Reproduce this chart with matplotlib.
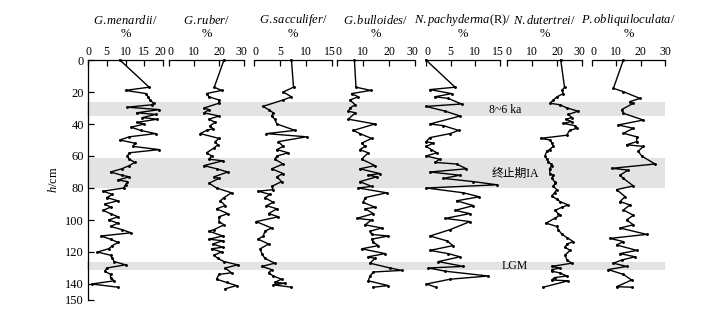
import matplotlib
matplotlib.use("Agg")
import matplotlib.pyplot as plt
from matplotlib.transforms import ScaledTranslation

plt.rcParams['font.family'] = ['Liberation Serif', 'Noto Sans CJK SC', 'DejaVu Sans']
plt.rcParams['mathtext.fontset'] = 'custom'
plt.rcParams['mathtext.it'] = 'Liberation Serif:italic'
plt.rcParams['mathtext.rm'] = 'Liberation Serif'

# ---------------- data ----------------
menardii_depth = [0, 17, 19, 21, 23, 25, 27, 28, 29.5, 31, 33, 34, 36, 37, 39, 40, 42, 44, 46, 48, 50, 52, 54, 56, 58, 60,
                  62, 64, 66, 68, 70, 72, 73, 75, 76, 78, 80, 82, 84, 86, 88, 90, 92, 94, 96, 98, 100, 102, 104, 106, 108,
                  110, 112, 114, 116, 118, 120, 122, 124, 126, 128, 130, 132, 134, 136, 138, 140, 142]
menardii_val = [8.5, 16.3, 10, 15.5, 16, 16.5, 17.5, 17, 10.5, 19, 13, 18, 14.5, 18.5, 13, 15, 11.5, 14, 18, 11, 8.5, 12.5,
                12, 19, 11, 10.5, 11, 12.5, 11, 9, 6, 9, 11, 8, 10.5, 10, 9.5, 4, 6.5, 5, 8, 4.5, 6, 4, 6, 8, 5.5, 8, 6, 9,
                11.5, 3.5, 6, 8, 6.5, 5.5, 2.5, 6, 6.5, 7, 10, 5, 4.5, 6, 6, 7, 1, 8]

ruber_depth = [0, 17, 19, 21, 23, 25, 27, 30, 31, 33, 35, 37, 39, 41, 43, 44, 46, 49, 51, 53, 55, 58, 60, 62, 63, 66, 68,
               70, 73, 74, 77, 80, 83, 86, 88, 91, 93, 96, 98, 101, 103, 106, 107, 110, 112, 113, 115, 117, 118, 120, 122,
               124, 126, 128, 130, 133, 134, 137, 139, 141, 143]
ruber_val = [22, 18.1, 21, 15, 16, 20, 20, 14, 16, 14, 20, 16, 18.5, 16.5, 17.5, 15, 12.5, 20, 18.5, 19.5, 18, 15, 17, 16,
             21.5, 14, 19, 23.5, 18, 20, 16, 19, 25, 22, 20.5, 22.5, 19, 23.5, 20, 20, 22, 18, 16, 21.5, 16, 21.5, 17.5,
             21.5, 17, 21, 18, 19.5, 22, 27.5, 22.5, 25, 20, 19, 23, 27, 22.5]

sacculifer_depth = [0, 17, 20, 23, 25, 29, 31, 33, 35, 37, 40, 44, 46, 48, 51, 54, 56, 58, 60, 62, 65, 68, 71, 73, 76, 79,
                    81, 82, 84, 86, 89, 91, 93, 96, 98, 101, 105, 107, 110, 112, 115, 118, 121, 124, 127, 129, 131, 133,
                    135, 137, 139, 139.5, 140.5, 142]
sacculifer_val = [7.2, 7.6, 5.6, 7.2, 5.6, 1.7, 2.8, 3.7, 3.4, 4, 4.4, 7.9, 2.4, 10.1, 4.7, 5.6, 4.4, 6.6, 4.4, 4, 5.6,
                  3.4, 5.6, 4.4, 5.3, 3.4, 3.7, 0.8, 3.1, 2.1, 3.7, 2.4, 4.4, 2.8, 4.7, 0.4, 3.4, 2.1, 1.8, 0.8, 2.8, 1.2,
                  1.5, 2.1, 4, 1.5, 3.4, 2.8, 3.7, 5.3, 4, 6, 3.7, 7.2]

bulloides_depth = [0, 17, 19, 21, 23, 25, 28, 30, 32, 33, 37, 40, 44, 46, 49, 52, 54, 56, 58, 62, 66, 68, 71, 72, 73, 76,
                   79, 80, 83, 86, 89, 92, 93, 96, 99, 100, 103, 105, 107, 109, 110, 112, 114, 116, 118, 121, 123, 124,
                   127, 130, 131.5, 132.5, 135, 138, 141, 142]
bulloides_val = [6.7, 7.3, 13, 5.6, 8.2, 5, 7, 5, 4.4, 7, 4.4, 14.6, 6.3, 8.8, 13.3, 9.5, 10.8, 8.8, 12, 9.5, 14.6, 8.8,
                 16.5, 12, 15.3, 8.8, 13.3, 8.2, 19.1, 10.8, 10.1, 14.6, 10.8, 14, 7.6, 13.3, 10.8, 17.2, 12.7, 13.3, 19.7,
                 13.3, 14, 15.9, 9.5, 18.5, 12, 14.6, 12.7, 20.4, 24.9, 14, 12.7, 12, 19.7, 14]

pachyderma_depth = [0, 17, 18.5, 21, 23, 24, 27.5, 29, 32, 35, 40, 41, 44, 46, 48.5, 51, 52, 54, 56, 58, 60, 62, 64, 65,
                    68, 70, 72, 74, 76, 78, 80, 83, 85.5, 88, 91, 94, 96, 99, 101, 106, 110, 113, 116, 119, 121, 123, 126,
                    129, 130, 132, 135, 137, 140, 142]
pachyderma_val = [0, 5.9, 0.8, 5.2, 1.8, 4.5, 7.2, 0, 3.9, 6.9, 0.8, 3.5, 6.6, 4.9, 0.8, 0, 1.5, 0, 1.1, 2.2, 0, 2.8, 1.8,
                  6.2, 8.2, 0.8, 6.9, 3.5, 9.6, 14.4, 0.1, 7.6, 10.8, 6.2, 9.6, 5.9, 8.9, 3.9, 8.9, 4.9, 0.8, 4.2, 5.5,
                  0.8, 4.5, 6.9, 2.5, 7.6, 0.5, 3.9, 12.6, 4.9, 0.1, 2]

dutertrei_depth = [0, 17, 19, 21, 23, 25, 27, 28, 30, 32, 34, 36, 37, 38.5, 39.6, 41, 42.7, 44, 47, 49, 50, 52, 54, 56,
                   57, 60, 62, 63.5, 65, 66, 68, 71, 72, 74, 76, 77, 79, 81, 83, 85, 87, 88.5, 90.6, 92, 94, 96, 97, 99,
                   102, 104, 106, 109, 111, 113.5, 115, 117, 119, 122, 125, 127, 129, 130, 131, 132, 133, 135, 136,
                   137.5, 138, 142]
dutertrei_val = [21.5, 23, 22, 22.5, 20, 18.5, 17.2, 21.2, 24, 28.5, 24.5, 26, 23.5, 25.9, 22.5, 27, 27.9, 25, 23.9, 13.5,
                 17.2, 18, 18.5, 17, 15.9, 15.2, 16, 16.5, 17.5, 17.9, 17, 17.2, 18.5, 17.9, 19, 19.2, 18.5, 19.9, 19,
                 17.9, 20, 21.2, 24.5, 22, 19.2, 20.5, 21.2, 19, 15.6, 19.9, 20.5, 22, 24, 26.5, 24, 23.2, 25.2, 23.2,
                 24, 25.9, 17.9, 21.2, 18, 17.9, 21, 23.9, 19, 17.9, 24.5, 14.5]

obliqui_depth = [0, 17.7, 19.8, 24, 26, 27, 31, 33.3, 37.5, 40.6, 42.7, 45.8, 48, 51, 53, 54, 57, 60, 65, 67.7, 68.8, 72,
                 74, 78.7, 81, 85.4, 88.5, 90.6, 93.75, 97, 100, 103, 105, 109, 111.5, 113.5, 115.6, 119, 121, 123, 125,
                 127, 129, 131, 134, 137.5, 141.7, 142]
obliqui_val = [12.9, 8.8, 12.9, 19.7, 15.6, 17, 12.2, 12.9, 21.1, 10.8, 17, 12.9, 18.4, 18.4, 14.2, 21.1, 19, 20.4, 25.9,
               8.1, 14.9, 11.5, 12.9, 17, 10.1, 13.6, 11.5, 15.6, 12.9, 17, 14.2, 17, 11.5, 22.5, 7.4, 12.9, 10.1, 18.4,
               11.5, 17.7, 12.2, 8.8, 14.2, 6.7, 12.9, 16.3, 10.1, 16.3]

titles = [r"$\mathit{G.menardii}$/", r"$\mathit{G.ruber}$/", r"$\mathit{G.sacculifer}$/", r"$\mathit{G.bulloides}$/",
          r"$\mathit{N.pachyderma}$(R)/", r"$\mathit{N.dutertrei}$/", r"$\mathit{P.obliquiloculata}$/"]
x_max = [20, 30, 15, 30, 15, 30, 30]
x_ticks = [[0, 5, 10, 15, 20], [0, 10, 20, 30], [0, 5, 10, 15], [0, 10, 20, 30],
           [0, 5, 10, 15], [0, 10, 20, 30], [0, 10, 20, 30]]
series = [(menardii_depth, menardii_val), (ruber_depth, ruber_val), (sacculifer_depth, sacculifer_val),
          (bulloides_depth, bulloides_val), (pachyderma_depth, pachyderma_val),
          (dutertrei_depth, dutertrei_val), (obliqui_depth, obliqui_val)]

bands = [(26, 35), (61, 80), (126, 131)]
band_labels = ["8~6 ka", "终止期IA", "LGM"]
band_label_depth = [31, 71, 129]
band_label_x = [489, 492, 502]

y_ticks = [0, 20, 40, 60, 80, 100, 120, 140, 150]

# ---------------- layout (pixels) ----------------
W, H = 706, 310
fig = plt.figure(figsize=(W / 100, H / 100), dpi=100)
top_px, bot_px = 60, 300
panel_px = [(88, 163), (169, 244), (254, 332), (337, 415), (426, 500), (507, 582), (592, 665)]


def rect(x0, x1):
    return [x0 / W, 1 - bot_px / H, (x1 - x0) / W, (bot_px - top_px) / H]


# background bands
bg = fig.add_axes(rect(87, 665))
bg.set_ylim(150, 0)
bg.set_xlim(0, 1)
bg.axis('off')
for (a, b) in bands:
    bg.axhspan(a, b, color='#e3e3e3', lw=0, zorder=0)
for lab, d, xp in zip(band_labels, band_label_depth, band_label_x):
    bg.text((xp - 87) / (665 - 87), d, lab, fontsize=8.5, va='center', ha='left')

n = len(panel_px)
for i, ((x0, x1), (dep, val)) in enumerate(zip(panel_px, series)):
    ax = fig.add_axes(rect(x0, x1))
    ax.patch.set_alpha(0)
    ax.plot(val, dep, color='black', lw=1.0, marker='.', ms=2.2, clip_on=False)
    ax.set_xlim(0, x_max[i])
    ax.set_ylim(150, 0)
    ax.xaxis.tick_top()
    ax.set_xticks(x_ticks[i])
    ax.tick_params(axis='x', direction='in', length=4, width=0.9, pad=1.5, labelsize=8.5)
    labels = ax.get_xticklabels()
    if i > 0:
        labels[0].set_transform(labels[0].get_transform() + ScaledTranslation(1.8 / 100, 0, fig.dpi_scale_trans))
    if i < n - 1:
        labels[-1].set_transform(labels[-1].get_transform() + ScaledTranslation(-2.2 / 100, 0, fig.dpi_scale_trans))
    for s in ['bottom', 'right']:
        ax.spines[s].set_visible(False)
    ax.spines['top'].set_linewidth(0.9)
    if i == 0:
        ax.spines['left'].set_linewidth(0.9)
        ax.set_yticks(y_ticks)
        ax.tick_params(axis='y', direction='in', length=4, width=0.9, pad=3, labelsize=9)
        ax.set_ylabel(r"$\mathit{h}$/cm", fontsize=9, labelpad=4)
    else:
        ax.spines['left'].set_visible(False)
        ax.set_yticks([])
    xc = (x0 + x1) / 2 / W
    fig.text(xc, 1 - 20 / H, titles[i], ha='center', va='center', fontsize=9)
    fig.text(xc, 1 - 34 / H, "%", ha='center', va='center', fontsize=9)

fig.savefig("out.png", dpi=100)
